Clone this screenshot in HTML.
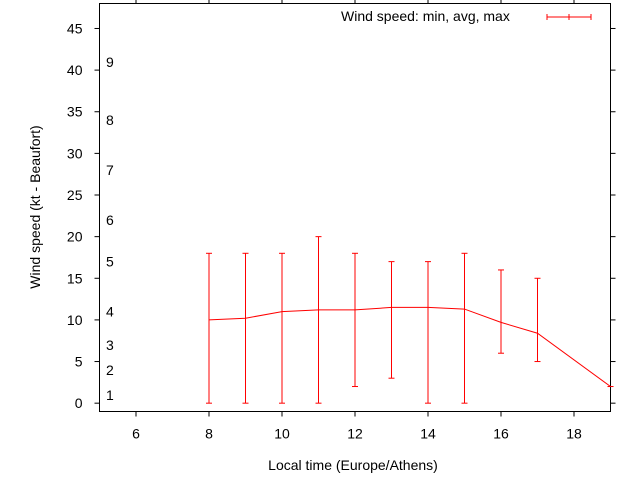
<!DOCTYPE html>
<html><head><meta charset="utf-8"><style>
body{margin:0;background:#fff}
svg text{font-family:"Liberation Sans",sans-serif;font-size:14px;fill:#000}
</style></head><body>
<svg width="640" height="480" id="c">
<g id="ax"></g><g id="marks"></g>
<text x="341" y="21" text-anchor="end" style="text-anchor:start" id="lg">Wind speed: min, avg, max</text>
<text x="353" y="470" text-anchor="middle">Local time (Europe/Athens)</text>
<text transform="translate(40,207) rotate(-90)" text-anchor="middle">Wind speed (kt - Beaufort)</text>
</svg>
<script>
const hours=[8,9,10,11,12,13,14,15,16,17,19];
const avgSpeed=[10,10.2,11,11.2,11.2,11.5,11.5,11.3,9.7,8.4,2];
const minSpeed=[0,0,0,0,2,3,0,0,6,5,2];
const maxSpeed=[18,18,18,20,18,17,17,18,16,15,2];
const xTicks=[6,8,10,12,14,16,18];
const yTicks=[0,5,10,15,20,25,30,35,40,45];
const beaufort=[["1",1],["2",4],["3",7],["4",11],["5",17],["6",22],["7",28],["8",34],["9",41]];
const L=99.5,R=610.5,T=3.5,B=411.5,x0=5,x1=19,y0=-1,y1=48;
const X=v=>L+(v-x0)/(x1-x0)*(R-L), Y=v=>B-(v-y0)/(y1-y0)*(B-T);
const NS="http://www.w3.org/2000/svg";
function mk(p,t,a){const e=document.createElementNS(NS,t);for(const k in a)e.setAttribute(k,a[k]);p.appendChild(e);return e;}
const ax=document.getElementById('ax'),mg=document.getElementById('marks');
let r=mk(ax,'rect',{x:L,y:T,width:R-L,height:B-T,fill:'none',stroke:'#000'});


xTicks.forEach(v=>{const x=X(v);
 mk(ax,'line',{x1:x,x2:x,y1:B,y2:B+5,stroke:'#000'});
 mk(ax,'line',{x1:x,x2:x,y1:T,y2:T-5,stroke:'#000'});
 const t=mk(ax,'text',{x:x,y:B+27,'text-anchor':'middle'});t.textContent=v;
 
 });
yTicks.forEach(v=>{const y=Y(v);
 mk(ax,'line',{x1:L-5,x2:L,y1:y,y2:y,stroke:'#000'});
 mk(ax,'line',{x1:R,x2:R+5,y1:y,y2:y,stroke:'#000'});
 const t=mk(ax,'text',{x:L-17,y:y+5,'text-anchor':'end'});t.textContent=v;
 
 });
beaufort.forEach(([s,v])=>{const t=mk(ax,'text',{x:106,y:Y(v)+5});t.textContent=s;
 
 });
const pts=hours.map((h,i)=>X(h)+','+Y(avgSpeed[i])).join(' ');
const pl=mk(mg,'polyline',{points:pts,fill:'none',stroke:'#f00'});


hours.forEach((h,i)=>{const x=X(h),g=mk(mg,'g',{stroke:'#f00'});
 
 
 mk(g,'line',{x1:x,x2:x,y1:Y(minSpeed[i]),y2:Y(maxSpeed[i])});
 mk(g,'line',{x1:x-3,x2:x+3,y1:Y(minSpeed[i]),y2:Y(minSpeed[i])});
 mk(g,'line',{x1:x-3,x2:x+3,y1:Y(maxSpeed[i]),y2:Y(maxSpeed[i])});});
const lg=mk(mg,'g',{stroke:'#f00'});


mk(lg,'line',{x1:547,x2:591,y1:17,y2:17});
[547,569,591].forEach(x=>mk(lg,'line',{x1:x,x2:x,y1:14,y2:20}));
</script>
</body></html>
